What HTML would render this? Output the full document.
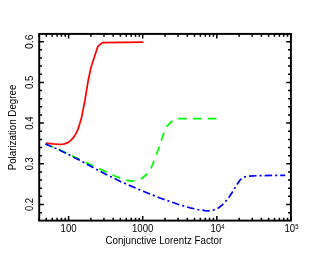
<!DOCTYPE html><html><head><meta charset="utf-8"><style>html,body{margin:0;padding:0;background:#fff}svg{display:block;will-change:transform}text{font-family:"Liberation Sans",sans-serif;fill:#000}</style></head><body>
<svg width="330" height="255" viewBox="0 0 330 255">
<rect x="0" y="0" width="330" height="255" fill="#fff"/>
<path d="M39.11 220.6 v-2.9 M39.11 33.9 v2.9 M46.29 220.6 v-2.9 M46.29 33.9 v2.9 M52.16 220.6 v-2.9 M52.16 33.9 v2.9 M57.12 220.6 v-2.9 M57.12 33.9 v2.9 M61.42 220.6 v-2.9 M61.42 33.9 v2.9 M65.21 220.6 v-2.9 M65.21 33.9 v2.9 M68.60 220.6 v-4.7 M68.60 33.9 v4.7 M90.91 220.6 v-2.9 M90.91 33.9 v2.9 M103.95 220.6 v-2.9 M103.95 33.9 v2.9 M113.21 220.6 v-2.9 M113.21 33.9 v2.9 M120.39 220.6 v-2.9 M120.39 33.9 v2.9 M126.26 220.6 v-2.9 M126.26 33.9 v2.9 M131.22 220.6 v-2.9 M131.22 33.9 v2.9 M135.52 220.6 v-2.9 M135.52 33.9 v2.9 M139.31 220.6 v-2.9 M139.31 33.9 v2.9 M142.70 220.6 v-4.7 M142.70 33.9 v4.7 M165.01 220.6 v-2.9 M165.01 33.9 v2.9 M178.05 220.6 v-2.9 M178.05 33.9 v2.9 M187.31 220.6 v-2.9 M187.31 33.9 v2.9 M194.49 220.6 v-2.9 M194.49 33.9 v2.9 M200.36 220.6 v-2.9 M200.36 33.9 v2.9 M205.32 220.6 v-2.9 M205.32 33.9 v2.9 M209.62 220.6 v-2.9 M209.62 33.9 v2.9 M213.41 220.6 v-2.9 M213.41 33.9 v2.9 M216.80 220.6 v-4.7 M216.80 33.9 v4.7 M239.11 220.6 v-2.9 M239.11 33.9 v2.9 M252.15 220.6 v-2.9 M252.15 33.9 v2.9 M261.41 220.6 v-2.9 M261.41 33.9 v2.9 M268.59 220.6 v-2.9 M268.59 33.9 v2.9 M274.46 220.6 v-2.9 M274.46 33.9 v2.9 M279.42 220.6 v-2.9 M279.42 33.9 v2.9 M283.72 220.6 v-2.9 M283.72 33.9 v2.9 M287.51 220.6 v-2.9 M287.51 33.9 v2.9 M290.90 220.6 v-4.7 M290.90 33.9 v4.7 M39.2 212.64 h2.9 M290.9 212.64 h-2.9 M39.2 204.50 h4.7 M290.9 204.50 h-4.7 M39.2 196.36 h2.9 M290.9 196.36 h-2.9 M39.2 188.22 h2.9 M290.9 188.22 h-2.9 M39.2 180.08 h2.9 M290.9 180.08 h-2.9 M39.2 171.94 h2.9 M290.9 171.94 h-2.9 M39.2 163.80 h4.7 M290.9 163.80 h-4.7 M39.2 155.66 h2.9 M290.9 155.66 h-2.9 M39.2 147.52 h2.9 M290.9 147.52 h-2.9 M39.2 139.38 h2.9 M290.9 139.38 h-2.9 M39.2 131.24 h2.9 M290.9 131.24 h-2.9 M39.2 123.10 h4.7 M290.9 123.10 h-4.7 M39.2 114.96 h2.9 M290.9 114.96 h-2.9 M39.2 106.82 h2.9 M290.9 106.82 h-2.9 M39.2 98.68 h2.9 M290.9 98.68 h-2.9 M39.2 90.54 h2.9 M290.9 90.54 h-2.9 M39.2 82.40 h4.7 M290.9 82.40 h-4.7 M39.2 74.26 h2.9 M290.9 74.26 h-2.9 M39.2 66.12 h2.9 M290.9 66.12 h-2.9 M39.2 57.98 h2.9 M290.9 57.98 h-2.9 M39.2 49.84 h2.9 M290.9 49.84 h-2.9 M39.2 41.70 h4.7 M290.9 41.70 h-4.7" stroke="#000" stroke-width="1.5" fill="none"/>
<rect x="39.2" y="33.9" width="251.7" height="186.7" fill="none" stroke="#000" stroke-width="1.95"/>
<path d="M45.7 143.1 L53.0 143.9 L60.9 144.5 L64.5 143.9 L68.3 142.4 L71.0 140.2 L73.3 137.7 L75.6 134.1 L77.7 129.9 L79.8 123.4 L81.7 116.9 L85.0 100.0 L88.2 80.5 L90.9 67.7 L97.8 46.4 L102.5 42.7 L143.3 42.1" stroke="#ff0000" stroke-width="1.7" fill="none" stroke-linejoin="round"/>
<path d="M45.5 144.0 L60.4 150.2 L80.0 159.6 L100.0 169.0 L115.0 176.0 L125.0 180.0 L131.7 181.1 L138.0 180.4 L141.6 178.5 L147.6 173.5 L151.2 168.0 L154.2 160.2 L156.6 154.1 L159.4 146.4 L161.4 140.0 L164.2 132.0 L166.8 126.4 L172.6 120.5 L175.0 119.0 L178.0 118.6 L216.7 118.6" stroke="#00ff00" stroke-width="1.7" fill="none" stroke-dasharray="8.5 6.36" stroke-dashoffset="0.6" stroke-linejoin="round"/>
<path d="M45.5 144.0 L60.4 150.4 L80.0 160.4 L100.0 171.3 L120.0 181.3 L140.0 190.0 L160.0 198.0 L180.0 205.0 L190.0 207.8 L197.6 209.5 L205.0 210.6 L209.0 210.9 L213.2 210.2 L217.7 208.5 L221.3 205.8 L224.4 202.7 L229.0 197.3 L233.4 190.4 L237.0 184.5 L240.1 180.0 L242.1 177.9 L244.8 176.8 L248.4 176.1 L260.0 175.6 L285.2 175.3" stroke="#0000ff" stroke-width="1.7" fill="none" stroke-dasharray="7.5 3.0 2.1 3.0" stroke-dashoffset="0.72" stroke-linejoin="round"/>
<text transform="translate(68.60 231.60) scale(0.965 1)" font-size="10" text-anchor="middle">100</text>
<text transform="translate(142.70 231.60) scale(0.965 1)" font-size="10" text-anchor="middle">1000</text>
<text transform="translate(210.40 231.60) scale(0.965 1)" font-size="10" text-anchor="start">10</text>
<text transform="translate(221.30 229.20) scale(0.82 1)" font-size="7.2" text-anchor="start">4</text>
<text transform="translate(284.40 231.60) scale(0.965 1)" font-size="10" text-anchor="start">10</text>
<text transform="translate(295.30 229.20) scale(0.82 1)" font-size="7.2" text-anchor="start">5</text>
<text transform="translate(32.50 204.50) rotate(-90) scale(0.935 1)" font-size="10" text-anchor="middle">0.2</text>
<text transform="translate(32.50 163.80) rotate(-90) scale(0.945 1)" font-size="10" text-anchor="middle">0.3</text>
<text transform="translate(32.50 123.10) rotate(-90) scale(0.965 1)" font-size="10" text-anchor="middle">0.4</text>
<text transform="translate(32.50 82.40) rotate(-90) scale(0.965 1)" font-size="10" text-anchor="middle">0.5</text>
<text transform="translate(32.50 41.70) rotate(-90) scale(1.04 1)" font-size="10" text-anchor="middle">0.6</text>
<text transform="translate(163.80 243.60) scale(0.979 1)" font-size="10" text-anchor="middle">Conjunctive Lorentz Factor</text>
<text transform="translate(16.00 127.50) rotate(-90) scale(0.977 1)" font-size="10" text-anchor="middle">Polarization Degree</text>
</svg></body></html>
